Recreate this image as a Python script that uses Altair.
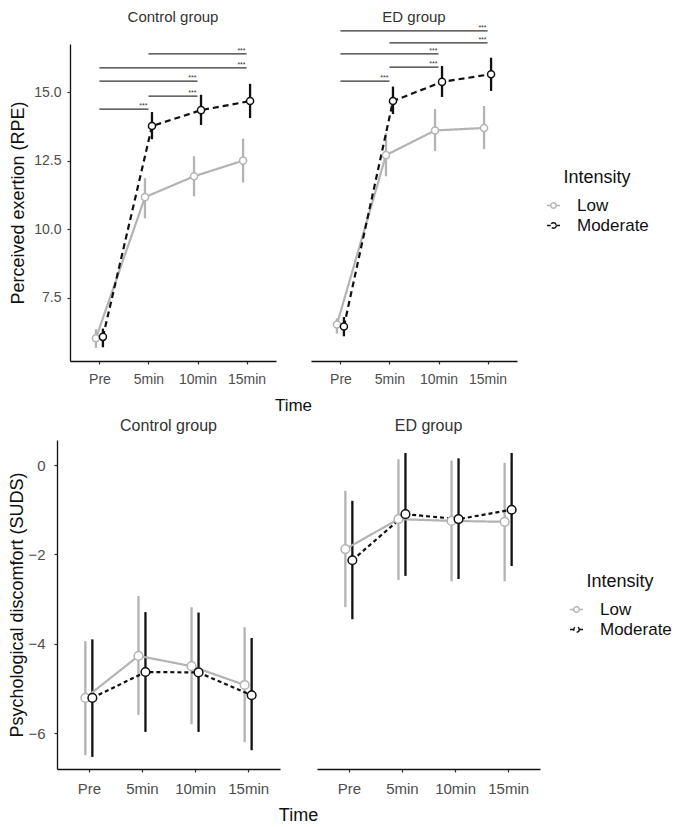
import altair as alt
import pandas as pd

FONT = "Liberation Sans"
GRAY = "#b3b3b3"
BLACK = "#111111"

times = ["Pre", "5min", "10min", "15min"]
intensities = ["Low", "Moderate"]
groups = ["Control group", "ED group"]

# ---- Perceived exertion (RPE) ----
rpe_ctrl_low_mean = [6.03, 11.17, 11.93, 12.50]
rpe_ctrl_low_lo = [5.68, 10.40, 11.20, 11.70]
rpe_ctrl_low_hi = [6.36, 11.86, 12.66, 13.30]
rpe_ctrl_mod_mean = [6.08, 13.76, 14.34, 14.67]
rpe_ctrl_mod_lo = [5.70, 13.28, 13.80, 14.05]
rpe_ctrl_mod_hi = [6.38, 14.27, 14.90, 15.30]

rpe_ed_low_mean = [6.53, 12.70, 13.60, 13.69]
rpe_ed_low_lo = [6.20, 11.93, 12.85, 12.92]
rpe_ed_low_hi = [6.75, 13.50, 14.38, 14.49]
rpe_ed_mod_mean = [6.46, 14.67, 15.37, 15.65]
rpe_ed_mod_lo = [6.10, 14.20, 14.82, 15.04]
rpe_ed_mod_hi = [6.80, 15.20, 15.95, 16.25]

# significance brackets (RPE, Moderate)
sig_ctrl_start = ["Pre", "5min", "Pre", "Pre", "5min"]
sig_ctrl_end = ["5min", "10min", "10min", "15min", "15min"]
sig_ctrl_level = [14.38, 14.85, 15.40, 15.88, 16.39]
sig_ed_start = ["Pre", "5min", "Pre", "5min", "Pre"]
sig_ed_end = ["5min", "10min", "10min", "15min", "15min"]
sig_ed_level = [15.40, 15.91, 16.39, 16.79, 17.23]
sig_label = "***"

# ---- Psychological discomfort (SUDS) ----
suds_ctrl_low_mean = [-5.21, -4.27, -4.50, -4.92]
suds_ctrl_low_lo = [-6.49, -5.59, -5.80, -6.20]
suds_ctrl_low_hi = [-3.94, -2.93, -3.18, -3.63]
suds_ctrl_mod_mean = [-5.21, -4.63, -4.64, -5.15]
suds_ctrl_mod_lo = [-6.53, -5.97, -5.97, -6.38]
suds_ctrl_mod_hi = [-3.90, -3.29, -3.30, -3.87]

suds_ed_low_mean = [-1.88, -1.21, -1.25, -1.27]
suds_ed_low_lo = [-3.18, -2.57, -2.60, -2.60]
suds_ed_low_hi = [-0.58, 0.13, 0.10, 0.05]
suds_ed_mod_mean = [-2.13, -1.10, -1.21, -1.00]
suds_ed_mod_lo = [-3.45, -2.48, -2.55, -2.26]
suds_ed_mod_hi = [-0.80, 0.27, 0.15, 0.27]


def point_rows(group, intensity, mean, lo, hi):
    return [
        {"kind": "pt", "Group": group, "Intensity": intensity, "Time": t,
         "mean": m, "lo": l, "hi": h}
        for t, m, l, h in zip(times, mean, lo, hi)
    ]


def sig_rows(group, starts, ends, levels):
    return [
        {"kind": "sig", "Group": group, "start": s, "end": e, "level": v, "lab": sig_label}
        for s, e, v in zip(starts, ends, levels)
    ]


rpe_df = pd.DataFrame(
    point_rows(groups[0], "Low", rpe_ctrl_low_mean, rpe_ctrl_low_lo, rpe_ctrl_low_hi)
    + point_rows(groups[0], "Moderate", rpe_ctrl_mod_mean, rpe_ctrl_mod_lo, rpe_ctrl_mod_hi)
    + point_rows(groups[1], "Low", rpe_ed_low_mean, rpe_ed_low_lo, rpe_ed_low_hi)
    + point_rows(groups[1], "Moderate", rpe_ed_mod_mean, rpe_ed_mod_lo, rpe_ed_mod_hi)
    + sig_rows(groups[0], sig_ctrl_start, sig_ctrl_end, sig_ctrl_level)
    + sig_rows(groups[1], sig_ed_start, sig_ed_end, sig_ed_level)
)

suds_df = pd.DataFrame(
    point_rows(groups[0], "Low", suds_ctrl_low_mean, suds_ctrl_low_lo, suds_ctrl_low_hi)
    + point_rows(groups[0], "Moderate", suds_ctrl_mod_mean, suds_ctrl_mod_lo, suds_ctrl_mod_hi)
    + point_rows(groups[1], "Low", suds_ed_low_mean, suds_ed_low_lo, suds_ed_low_hi)
    + point_rows(groups[1], "Moderate", suds_ed_mod_mean, suds_ed_mod_lo, suds_ed_mod_hi)
)

SYMBOL = ("M-1,0H-0.42M0.42,0H1M0.42,0A0.42,0.42,0,1,1,-0.42,0"
          "A0.42,0.42,0,1,1,0.42,0Z")


def build(df, ydomain, ytitle, yvals, yfmt, w, h, spacing, dx, psize, dash,
          tick_fs, title_fs, head_fs, head_pad, ytitle_fs, ytp, ylp, xlp, leg_x, leg_y,
          leg_tp, time_off, with_sig):
    leg = alt.Legend(
        title="Intensity", orient="none", legendX=leg_x, legendY=leg_y,
        titleAnchor="middle", titleFontSize=18, titleFontWeight="normal",
        titleColor="#111", titlePadding=leg_tp, labelFontSize=17, labelColor="#111",
        labelFont=FONT, titleFont=FONT, symbolType=SYMBOL, symbolSize=170,
        symbolStrokeWidth=1.4, symbolFillColor="white", labelOffset=15,
        rowPadding=2,
    )
    color = alt.Color("Intensity:N", scale=alt.Scale(domain=intensities, range=[GRAY, BLACK]),
                      legend=leg)
    sdash = alt.StrokeDash("Intensity:N",
                           scale=alt.Scale(domain=intensities, range=[[1, 0], dash]),
                           legend=leg)
    xaxis = alt.Axis(title="", labelAngle=0, labelFontSize=tick_fs, labelPadding=xlp)
    xscale = alt.Scale(type="point", domain=times, padding=0.6)
    x = alt.X("Time:N", scale=xscale, axis=xaxis)
    xoff = alt.XOffset("Intensity:N",
                       scale=alt.Scale(type="point", domain=intensities, range=[-dx, dx], padding=0))
    yscale = alt.Scale(domain=ydomain, nice=False, zero=False)
    yaxis = alt.Axis(title=ytitle, values=yvals, format=yfmt, labelFontSize=tick_fs,
                     titleFontSize=ytitle_fs, titlePadding=ytp, labelPadding=ylp)

    base = alt.Chart().transform_filter(alt.datum.kind == "pt")
    bars = base.mark_rule(strokeWidth=2.3).encode(
        x=x, xOffset=xoff,
        y=alt.Y("lo:Q", scale=yscale, axis=yaxis), y2="hi:Q", color=color)
    lines = base.mark_line(strokeWidth=2.2).encode(
        x=x, xOffset=xoff, y=alt.Y("mean:Q", scale=yscale, axis=yaxis),
        color=color, strokeDash=sdash)
    pts = base.mark_point(filled=False, fill="white", size=psize, strokeWidth=1.5, opacity=1).encode(
        x=x, xOffset=xoff, y=alt.Y("mean:Q", scale=yscale, axis=yaxis), color=color)
    layers = [bars, lines, pts]
    if with_sig:
        sbase = alt.Chart().transform_filter(alt.datum.kind == "sig")
        srule = sbase.mark_rule(strokeWidth=1.3, color="#333").encode(
            x=alt.X("start:N", scale=xscale, axis=xaxis), x2="end:N",
            y=alt.Y("level:Q", scale=yscale, axis=yaxis))
        stext = sbase.mark_text(fontSize=7, align="right", baseline="bottom", dx=-1, dy=0,
                                color="#333", font=FONT).encode(
            x=alt.X("end:N", scale=xscale, axis=xaxis),
            y=alt.Y("level:Q", scale=yscale, axis=yaxis), text="lab:N")
        layers += [srule, stext]

    # the shared "Time" title is centred under both panels
    center = (2 * w + spacing) / 2
    return alt.layer(*layers, data=df).properties(width=w, height=h).facet(
        column=alt.Column("Group:N", sort=groups,
                          header=alt.Header(title=None, labelFontSize=head_fs, labelFont=FONT,
                                            labelColor="#333", labelPadding=head_pad)),
        spacing=spacing,
    ).properties(
        title=alt.TitleParams("Time", orient="bottom", anchor="middle", frame="group",
                              dx=center, fontSize=title_fs, font=FONT, fontWeight="normal",
                              color="#111", offset=time_off)
    )


top = build(rpe_df, [5.2, 16.75], "Perceived exertion (RPE)", [7.5, 10, 12.5, 15], ".1f",
            206, 317, 35, 3.5, 50, [6, 4], 14, 17, 15, -2, 18, 6, 6, 8, 488, 125, 10, 12, True)
bottom = build(suds_df, [-6.8, 0.56], "Psychological discomfort (SUDS)", [-6, -4, -2, 0], "d",
               223, 329, 37, 4, 75, [4, 3], 15, 18, 16, 6, 18, 1, 9, 9, 511, 133, 10, 11, False)

# an invisible 1px spacer lets the top row sit further right than the bottom row
spacer = alt.Chart(pd.DataFrame({"v": [0]})).mark_point(opacity=0).encode(
    x=alt.value(0), y=alt.value(0)).properties(width=1, height=1)
top_row = alt.hconcat(spacer, top, spacing=-51)

chart = alt.concat(top_row, bottom, columns=1, spacing=4).resolve_scale(
    color="independent", strokeDash="independent"
).resolve_legend(color="independent", strokeDash="independent").properties(
    padding={"left": 0, "top": 2, "right": 0, "bottom": 0}
).configure_view(strokeWidth=0).configure_axis(
    grid=False, domainColor="#111", domainWidth=1.3, tickColor="#333", tickSize=3,
    tickWidth=1.2, labelColor="#4d4d4d", titleColor="#111", labelFont=FONT, titleFont=FONT,
    titleFontWeight="normal"
).configure_text(font=FONT)

chart.save("out.html", embed_options={"renderer": "svg", "actions": False})
